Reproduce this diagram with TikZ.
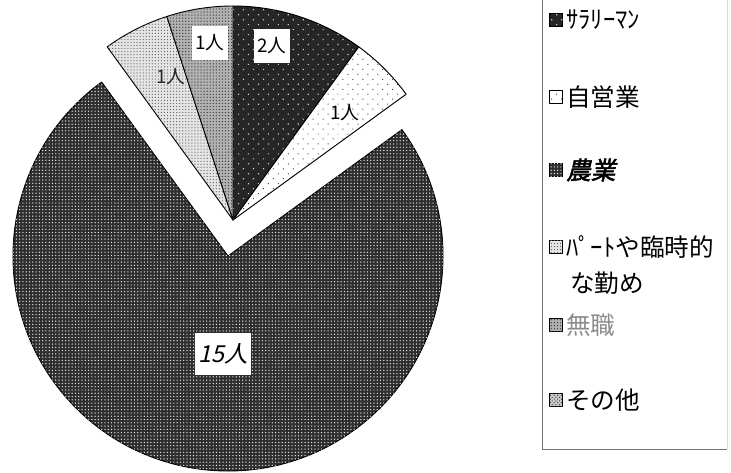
\documentclass[tikz,border=0pt]{standalone}
\usepackage{fontspec}
\setmainfont{Noto Sans CJK JP}
\newfontfamily\jpslant[FakeSlant=0.22]{Noto Sans CJK JP}
\newfontfamily\jpslantbold[FakeSlant=0.22,FakeBold=2]{Noto Sans CJK JP}
\usetikzlibrary{patterns.meta,positioning}

\begin{document}
\begin{tikzpicture}[x=0.03cm, y=0.03cm,
    slice/.style={draw=black, line width=0.8pt, line join=round},
    sal/.style={slice, fill=black!85, postaction={pattern={Dots[radius=0.7pt, distance=6pt, angle=45]}, pattern color=black!20}},
    jiei/.style={slice, fill=white, postaction={pattern={Dots[radius=0.6pt, distance=6pt, angle=45]}, pattern color=black!75}},
    nogyo/.style={slice, fill=black!82, postaction={pattern={Dots[radius=0.6pt, distance=2.8pt]}, pattern color=black!10}},
    part/.style={slice, fill=black!10, postaction={pattern={Dots[radius=0.55pt, distance=2.6pt]}, pattern color=black!60}},
    mushoku/.style={slice, fill=black!30, postaction={pattern={Dots[radius=0.6pt, distance=2.6pt]}, pattern color=black!75}},
    sonota/.style={slice, fill=black!20, postaction={pattern={Dots[radius=0.6pt, distance=2.2pt, angle=45]}, pattern color=black!80}},
    lbl/.style={font=\fontsize{16}{19}\selectfont, inner sep=3pt},
    lblbox/.style={lbl, fill=white, minimum height=1cm},
    legbox/.style={minimum size=0.4cm, inner sep=0pt, line width=0.6pt},
    legtext/.style={font=\fontsize{21}{25}\selectfont, anchor=west, inner sep=0pt}]
  \useasboundingbox (0,0) rectangle (731,472);

  % Centri
  \coordinate (S) at (233,252);
  \coordinate (B) at (228,216);

  % Fette piccole
  \filldraw[sal] (S) -- ++(90:214) arc[start angle=90, end angle=54, radius=214] -- cycle;
  \filldraw[jiei] (S) -- ++(54:214) arc[start angle=54, end angle=36, radius=214] -- cycle;
  \filldraw[part] (S) -- ++(126:214) arc[start angle=126, end angle=108, radius=214] -- cycle;
  \filldraw[mushoku] (S) -- ++(108:214) arc[start angle=108, end angle=90, radius=214] -- cycle;

  % Fetta grande
  \filldraw[nogyo] (B) -- ++(36:215) arc[start angle=36, end angle=-234, radius=215] -- cycle;

  % Etichette
  \node (n2) at (272,426) [lblbox] {2人};
  \node (n1a) at (210,429) [lblbox] {1人};
  \node (n1b) at (345,359) [lbl] {1人};
  \node (n1c) at (171,395) [lbl, text=black!85] {1人};
  \node (n15) at (223,118) [lblbox, minimum height=1.25cm, font=\fontsize{20}{24}\jpslant] {15人};

  % Legenda
  \draw[black!55, line width=0.8pt] (542,480) -- (542,23) -- (727,23);
  \draw[black!15, line width=0.6pt] (727,23) -- (727,480);
  \node (m1) at (556,452) [legbox, sal] {};
  \node (m2) at (556,375) [legbox, jiei] {};
  \node (m3) at (556,302) [legbox, nogyo] {};
  \node (m4) at (556,225) [legbox, part] {};
  \node (m5) at (556,147) [legbox, mushoku] {};
  \node (m6) at (556,72) [legbox, sonota] {};
  \node (t1) [legtext, right=0.3cm of m1.center] {ｻﾗﾘｰﾏﾝ};
  \node (t2) [legtext, right=0.3cm of m2.center] {自営業};
  \node (t3) [legtext, right=0.3cm of m3.center, font=\fontsize{21}{25}\jpslantbold] {農業};
  \node (t4) [legtext, right=0.3cm of m4.center] {ﾊﾟｰﾄや臨時的};
  \node (t4b) at (570,189) [legtext] {な勤め};
  \node (t5) [legtext, right=0.3cm of m5.center, text=black!45] {無職};
  \node (t6) [legtext, right=0.3cm of m6.center] {その他};
\end{tikzpicture}
\end{document}
